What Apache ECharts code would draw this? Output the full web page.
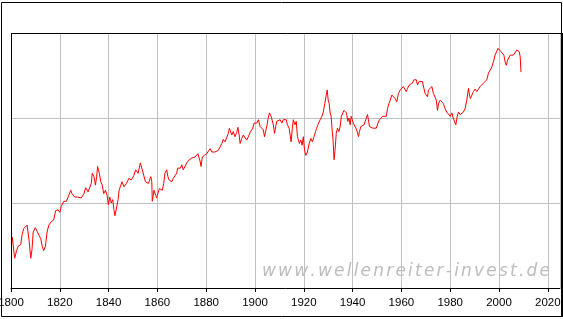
<!DOCTYPE html>
<html>
<head>
<meta charset="utf-8">
<script src="https://cdn.jsdelivr.net/npm/echarts@6/dist/echarts.min.js"></script>
<style>
html,body{margin:0;padding:0;background:#fff;}
#chart{width:563px;height:319px;}
</style>
</head>
<body>
<div id="chart"></div>
<script>
// Time axis (years) of the red index line
var years = [
1800.1,1800.5,1801.5,1802.2,1802.9,1804.0,1804.5,1805.2,1805.9,1806.6,
1807.0,1807.4,1808.1,1808.6,1809.1,1810.0,1810.8,1811.5,1812.2,1812.8,
1813.4,1814.1,1814.8,1815.5,1816.5,1817.5,1818.3,1819.3,1820.0,1820.6,
1821.6,1822.7,1823.4,1824.5,1825.0,1826.1,1827.2,1828.0,1828.8,1829.9,
1830.6,1831.6,1832.3,1832.9,1833.3,1834.0,1834.6,1835.1,1835.5,1836.2,
1836.8,1837.4,1838.0,1838.7,1839.4,1839.9,1840.5,1841.1,1841.7,1842.2,
1842.6,1843.1,1843.6,1843.9,1844.3,1844.8,1845.5,1846.3,1847.3,1848.3,
1849.3,1850.3,1851.1,1852.1,1853.0,1853.8,1854.5,1855.1,1856.3,
1857.3,1857.7,1857.9,1858.6,1859.3,1859.7,1860.4,1860.8,1861.5,
1862.0,1862.6,1863.1,1863.8,1864.3,1864.8,1865.3,1865.9,1866.5,1867.2,
1867.9,1868.3,1868.9,1869.4,1870.0,1870.6,1871.3,1872.0,1872.7,1873.4,
1874.1,1874.7,1875.4,1876.1,1876.6,1877.1,1877.5,1877.9,1878.4,1879.3,
1880.2,1880.9,1881.6,1882.3,1882.9,1883.6,1884.3,1885.0,1885.7,1886.4,
1887.0,1887.7,1888.4,1889.1,1889.5,1890.1,1890.5,1891.1,1891.8,1892.5,
1893.0,1893.5,1893.9,1894.6,1895.2,1895.9,1896.6,1897.3,1898.0,1898.7,
1899.1,1899.6,1900.0,1900.7,1901.4,1902.1,1902.8,1903.4,1903.9,1904.4,
1904.8,1905.3,1905.9,1906.6,1907.1,1907.5,1908.0,1908.5,1908.9,1909.6,
1910.3,1911.0,1911.6,1912.8,1913.3,1914.0,1914.4,1914.8,1915.3,1915.7,
1916.4,1916.9,1917.4,1917.8,1918.2,1918.8,1919.3,1919.8,1920.3,1920.8,
1921.5,1922.2,1922.9,1923.5,1924.2,1924.8,1925.3,1925.8,1926.3,1926.7,
1927.4,1928.0,1928.6,1929.2,1929.6,1930.0,1930.4,1930.8,1931.2,1931.6,
1932.0,1932.4,1932.8,1933.3,1933.8,1934.4,1934.9,1935.4,1936.0,1936.5,
1936.9,1937.5,1938.0,1938.5,1939.0,1939.4,1939.9,1940.3,1941.0,1941.7,
1942.4,1942.8,1943.4,1944.0,1944.7,1945.4,1946.1,1946.5,1946.9,1947.6,
1948.3,1949.0,1949.7,1950.4,1951.0,1951.7,1952.4,1953.1,1953.8,1954.3,
1954.9,1955.4,1956.1,1956.7,1957.4,1958.1,1958.8,1959.5,1960.2,1960.8,
1961.4,1962.0,1962.5,1963.3,1964.0,1964.5,1965.2,1966.1,1966.6,1967.3,
1968.0,1968.6,1969.3,1969.7,1970.3,1970.7,1971.1,1971.8,1972.5,1973.1,
1973.8,1974.3,1974.8,1975.2,1975.9,1976.6,1977.2,1977.9,1978.6,1979.3,
1980.0,1980.7,1981.2,1981.8,1982.3,1982.9,1983.4,1984.1,1984.8,1985.4,
1986.1,1986.8,1987.5,1987.9,1988.3,1988.9,1989.5,1990.2,1990.9,1991.6,
1992.3,1993.0,1993.6,1994.3,1995.0,1995.7,1996.4,1997.1,1997.7,1998.4,
1999.1,1999.6,2000.1,2000.8,2001.4,2002.0,2002.5,2003.0,2003.5,2003.9,
2004.6,2005.3,2005.9,2006.6,2007.3,2007.8,2008.3,2008.7,2009.0
];
// Index level (log-scale units, gridlines at 1 and 2)
var values = [
0.53,0.60,0.35,0.43,0.49,0.51,0.62,0.70,0.68,0.74,
0.72,0.56,0.35,0.45,0.66,0.71,0.66,0.62,0.58,0.49,
0.44,0.49,0.66,0.74,0.78,0.80,0.91,0.92,0.89,0.96,
1.02,1.02,1.07,1.15,1.11,1.07,1.07,1.09,1.06,1.11,
1.18,1.13,1.15,1.23,1.35,1.31,1.21,1.31,1.43,1.35,
1.25,1.21,1.11,1.15,1.09,0.98,1.07,1.00,1.04,0.92,
0.85,0.92,0.90,1.04,1.15,1.19,1.25,1.19,1.23,1.29,
1.27,1.32,1.39,1.35,1.47,1.39,1.37,1.25,1.23,
1.31,1.25,1.02,1.15,1.09,1.06,1.07,1.17,1.19,
1.15,1.23,1.35,1.39,1.31,1.27,1.29,1.25,1.29,1.32,
1.35,1.41,1.43,1.41,1.45,1.39,1.41,1.47,1.50,1.49,
1.53,1.51,1.54,1.53,1.58,1.53,1.49,1.43,1.54,1.56,
1.58,1.60,1.64,1.60,1.58,1.60,1.58,1.62,1.66,1.70,
1.75,1.72,1.74,1.82,1.88,1.86,1.80,1.84,1.78,1.83,
1.89,1.80,1.70,1.76,1.80,1.78,1.74,1.78,1.83,1.82,
1.88,1.94,1.96,1.94,1.98,1.90,1.92,1.86,1.78,1.80,
1.90,1.98,2.06,2.02,2.00,1.92,1.82,1.90,1.96,1.94,
1.98,1.94,1.98,1.98,1.92,1.88,1.80,1.72,1.88,1.98,
1.92,1.96,1.78,1.74,1.70,1.74,1.68,1.78,1.62,1.56,
1.60,1.70,1.76,1.72,1.78,1.84,1.88,1.92,1.94,1.98,
2.02,2.07,2.17,2.27,2.33,2.21,2.17,2.06,2.02,1.86,
1.74,1.51,1.62,1.82,1.88,1.84,1.90,2.02,2.06,2.09,
2.11,2.06,1.96,2.00,1.92,2.02,1.98,1.94,1.90,1.86,
1.78,1.84,1.90,1.88,1.92,1.94,2.04,1.98,1.90,1.90,
1.88,1.86,1.88,1.94,1.98,1.98,2.02,2.00,2.02,2.11,
2.17,2.21,2.27,2.25,2.23,2.19,2.29,2.33,2.35,2.37,
2.35,2.31,2.35,2.39,2.37,2.41,2.45,2.45,2.39,2.43,
2.41,2.43,2.41,2.29,2.27,2.25,2.33,2.35,2.37,2.29,
2.27,2.21,2.09,2.17,2.21,2.23,2.17,2.11,2.07,2.06,
2.02,2.06,2.00,1.98,1.92,2.02,2.07,2.04,2.06,2.07,
2.11,2.21,2.35,2.27,2.23,2.25,2.31,2.34,2.31,2.34,
2.37,2.37,2.41,2.41,2.45,2.53,2.54,2.60,2.66,2.74,
2.74,2.82,2.80,2.78,2.76,2.74,2.66,2.62,2.68,2.70,
2.74,2.74,2.74,2.74,2.80,2.82,2.78,2.72,2.54
];
// Axis tick labels
var xTickLabels = ['1800','1820','1840','1860','1880','1900','1920','1940','1960','1980','2000','2020'];
var watermark = 'www.wellenreiter-invest.de';

var n = Math.min(years.length, values.length);
var seriesData = [];
for (var i = 0; i < n; i++) seriesData.push([years[i], values[i]]);

var labelFont = '"Liberation Sans Narrow", "Arial Narrow", "Liberation Sans", Arial, sans-serif';

// watermark characters with letter spacing
var wmFont = 'italic 17px "DejaVu Sans", Verdana, sans-serif';
var cv = document.createElement('canvas').getContext('2d');
cv.font = wmFont;
var widths = [], natural = 0;
for (var k = 0; k < watermark.length; k++) {
  var w = cv.measureText(watermark[k]).width;
  widths.push(w); natural += w;
}
var wmLeft = 262, wmRight = 550;
var spacing = (wmRight - wmLeft - natural) / (watermark.length - 1);
var wmElems = [];
var cx = wmLeft;
for (var k = 0; k < watermark.length; k++) {
  wmElems.push({
    type: 'text', z: 1, silent: true,
    style: {
      text: watermark[k], x: cx, y: 272,
      font: wmFont,
      fill: '#bdbdbd', align: 'left', verticalAlign: 'middle'
    }
  });
  cx += widths[k] + spacing;
}

var chart = echarts.init(document.getElementById('chart'), null, {renderer: 'canvas'});
chart.setOption({
  animation: false,
  backgroundColor: '#ffffff',
  grid: {left: 11, top: 33, width: 549, height: 255, show: false,
         containLabel: false, outerBoundsMode: 'none'},
  xAxis: {
    type: 'value', min: 1800, max: 2025, interval: 20,
    axisLine: {show: true, onZero: false, lineStyle: {color: '#000', width: 1}},
    axisTick: {show: true, length: 4, lineStyle: {color: '#000', width: 1}},
    axisLabel: {
      show: true, margin: 9, color: '#000', fontSize: 11.5, fontFamily: labelFont,
      showMaxLabel: false, hideOverlap: false,
      formatter: function (v) {
        var s = String(Math.round(v));
        return xTickLabels.indexOf(s) >= 0 ? s : '';
      }
    },
    splitLine: {show: true, lineStyle: {color: '#c0c0c0', width: 1}}
  },
  yAxis: {
    type: 'value', min: 0, max: 3, interval: 1,
    axisLine: {show: false}, axisTick: {show: false}, axisLabel: {show: false},
    splitLine: {show: true, lineStyle: {color: '#c0c0c0', width: 1}}
  },
  series: [{
    type: 'line', data: seriesData, showSymbol: false, symbol: 'none',
    smooth: false, z: 3,
    lineStyle: {color: '#ff0000', width: 1},
    itemStyle: {color: '#ff0000'}
  }],
  graphic: wmElems.concat([
    {type: 'rect', silent: true, z: 100,
     shape: {x: 1.5, y: 2.5, width: 560, height: 314},
     style: {fill: 'none', stroke: '#000', lineWidth: 1}},
    {type: 'line', silent: true, z: 100,
     shape: {x1: 11.5, y1: 33.5, x2: 11.5, y2: 289},
     style: {stroke: '#000', lineWidth: 1}},
    {type: 'line', silent: true, z: 100,
     shape: {x1: 11, y1: 33.5, x2: 562, y2: 33.5},
     style: {stroke: '#000', lineWidth: 1}},
    {type: 'line', silent: true, z: 100,
     shape: {x1: 562, y1: 33, x2: 562, y2: 317},
     style: {stroke: '#000', lineWidth: 2}}
  ])
});
</script>
</body>
</html>
